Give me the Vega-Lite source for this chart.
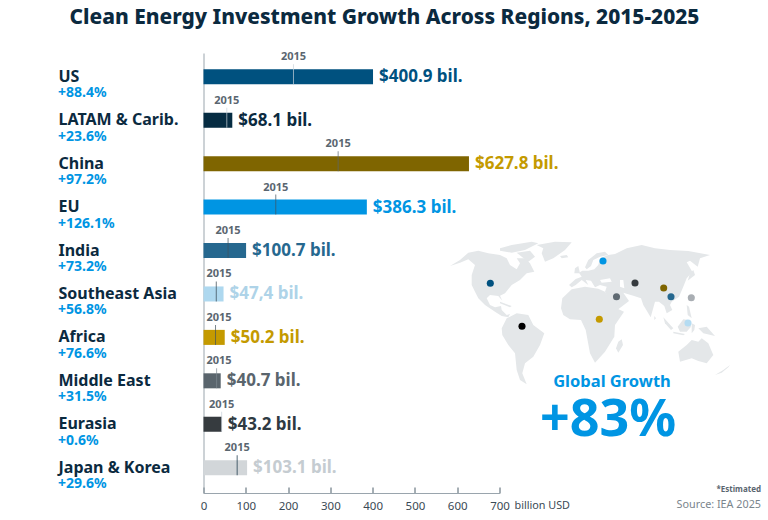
{
  "$schema": "https://vega.github.io/schema/vega-lite/v6.json",
  "width": 296,
  "height": 440,
  "autosize": {"type": "none"},
  "padding": {"left": 203.5, "top": 53, "right": 268.5, "bottom": 27},
  "background": "#ffffff",
  "view": {"stroke": null},
  "title": {"text": "Clean Energy Investment Growth Across Regions, 2015-2025", "anchor": "middle", "dx": 33, "offset": 23, "font": "Noto Sans", "fontSize": 20.9, "fontWeight": 800, "color": "#0b2a3f"},
  "datasets": {
    "regions": [
      {"region": "US", "v2025": 400.9, "v2015": 212.8, "growth": "+88.4%", "label": "$400.9 bil.", "lon": -86.7, "lat": 46.7},
      {"region": "LATAM & Carib.", "v2025": 68.1, "v2015": 55.1, "growth": "+23.6%", "label": "$68.1 bil.", "lon": -55, "lat": 3.7},
      {"region": "China", "v2025": 627.8, "v2015": 318.4, "growth": "+97.2%", "label": "$627.8 bil.", "lon": 86.7, "lat": 42},
      {"region": "EU", "v2025": 386.3, "v2015": 170.9, "growth": "+126.1%", "label": "$386.3 bil.", "lon": 26, "lat": 69},
      {"region": "India", "v2025": 100.7, "v2015": 58.1, "growth": "+73.2%", "label": "$100.7 bil.", "lon": 94, "lat": 33.3},
      {"region": "Southeast Asia", "v2025": 47.4, "v2015": 30.2, "growth": "+56.8%", "label": "$47,4 bil.", "lon": 111, "lat": 7},
      {"region": "Africa", "v2025": 50.2, "v2015": 28.4, "growth": "+76.6%", "label": "$50.2 bil.", "lon": 22.3, "lat": 10.7},
      {"region": "Middle East", "v2025": 40.7, "v2015": 31, "growth": "+31.5%", "label": "$40.7 bil.", "lon": 39.5, "lat": 33.3},
      {"region": "Eurasia", "v2025": 43.2, "v2015": 42.9, "growth": "+0.6%", "label": "$43.2 bil.", "lon": 58, "lat": 47},
      {"region": "Japan & Korea", "v2025": 103.1, "v2015": 79.6, "growth": "+29.6%", "label": "$103.1 bil.", "lon": 114.3, "lat": 32.3}
    ],
    "land": [
      {"type": "Feature", "properties": {"name": "North America"}, "geometry": {"type": "Polygon", "coordinates": [[[-127,64],[-117,70],[-108.7,77.3],[-98.7,79.3],[-88.7,76.7],[-77,75],[-70.3,71.7],[-67,65],[-60.3,60.7],[-57,66.7],[-60.3,71.7],[-52,71.7],[-47,66.7],[-42.7,58.3],[-50.3,56.7],[-57,50],[-65.3,45],[-72,36.7],[-77,34.3],[-74.7,29.3],[-78.7,34],[-87,35],[-90.3,31.7],[-87,25],[-82,22.7],[-76,24],[-75.3,20],[-70.3,15],[-67,16],[-68.7,12.7],[-75.3,14],[-82,18.3],[-92,25],[-98.7,31.7],[-102,38.3],[-105.3,45],[-105.3,55],[-102,65],[-108.7,70.7],[-117,67.3],[-127,64]]]}},
      {"type": "Feature", "properties": {"name": "Arctic islands"}, "geometry": {"type": "Polygon", "coordinates": [[[-77,81.7],[-65.3,85],[-45.3,88.3],[-38.7,86.7],[-52,80],[-65.3,77.3],[-77,79.3],[-77,81.7]]]}},
      {"type": "Feature", "properties": {"name": "Baffin"}, "geometry": {"type": "Polygon", "coordinates": [[[-60.3,77.3],[-47,79.3],[-42,73.3],[-48.7,68.3],[-55.3,73.3],[-60.3,77.3]]]}},
      {"type": "Feature", "properties": {"name": "Greenland"}, "geometry": {"type": "Polygon", "coordinates": [[[-40.3,85],[-22,88.3],[-5.3,87.7],[-12,80],[-23.7,71.7],[-32,68.3],[-35.3,76.7],[-33.7,81.7],[-40.3,85]]]}},
      {"type": "Feature", "properties": {"name": "Cuba"}, "geometry": {"type": "Polygon", "coordinates": [[[-77,28.3],[-65.3,24],[-67,22.7],[-77,26.7],[-77,28.3]]]}},
      {"type": "Feature", "properties": {"name": "South America"}, "geometry": {"type": "Polygon", "coordinates": [[[-75.3,1.7],[-70.3,11.7],[-60.3,16.7],[-48.7,15],[-43.7,5],[-32.7,-3.3],[-37,-15],[-43.7,-26.7],[-52,-33.3],[-54.7,-43.3],[-50.3,-54.3],[-57,-50],[-60.3,-40],[-62,-23.3],[-68.7,-15],[-74.7,-5],[-75.3,1.7]]]}},
      {"type": "Feature", "properties": {"name": "Africa"}, "geometry": {"type": "Polygon", "coordinates": [[[-16,21.7],[-14.7,31.7],[-5.3,40.7],[8,43.3],[21.3,41.3],[28,38.3],[36.3,23.3],[47,18.3],[38,5],[37.3,-6.7],[28,-21.7],[18,-32.7],[13,-23.3],[8.7,0],[4,10],[-7,10.7],[-13.7,15],[-16,21.7]]]}},
      {"type": "Feature", "properties": {"name": "Madagascar"}, "geometry": {"type": "Polygon", "coordinates": [[[44.7,-9.3],[46,-15],[41.3,-22.7],[39,-18.3],[41.3,-11.7],[44.7,-9.3]]]}},
      {"type": "Feature", "properties": {"name": "Eurasia"}, "geometry": {"type": "Polygon", "coordinates": [[[-8,45],[-1.3,51],[4.7,53.3],[2,57.3],[5.3,59.3],[11.3,59.3],[17.3,60.7],[21.3,65],[23,71.7],[31.3,75],[38,76],[49.7,81.7],[64.7,85],[78,81.7],[93,80],[111.3,79],[133,75],[123,71.7],[120.7,63.3],[113,69.3],[109.7,67.7],[115.3,58.3],[109.7,51.7],[106.3,43.3],[102,33.3],[94.7,28.3],[93,25],[95.3,20],[89.7,16.7],[87.3,24],[82,28.3],[78,28.3],[73.7,12.7],[66.3,25],[64,31.7],[56.3,34.3],[46.3,37.3],[52,29],[38,18.3],[33,25],[28,38.3],[29.7,43.3],[23,45],[18,42.7],[14,49.3],[8.7,50],[11.3,45],[4.7,50],[-1.3,45],[-5.3,42.7],[-8,45]],[[23,50],[24.7,47.3],[34.7,48.3],[33,51.7],[23,50]],[[43,50],[43,43.3],[47.3,41.7],[46.3,50],[43,50]]]}},
      {"type": "Feature", "properties": {"name": "Scandinavia"}, "geometry": {"type": "Polygon", "coordinates": [[[8,62.7],[11.3,70],[19.7,76.7],[28,78.3],[31.3,75],[23,73.3],[16.3,70],[14,64],[9.7,60.7],[8,62.7]]]}},
      {"type": "Feature", "properties": {"name": "UK"}, "geometry": {"type": "Polygon", "coordinates": [[[-2,61.7],[1.3,64],[3,56.7],[-2.7,56.7],[-2,61.7]]]}},
      {"type": "Feature", "properties": {"name": "Iceland"}, "geometry": {"type": "Polygon", "coordinates": [[[-17,74],[-10.3,75],[-8.7,72.7],[-15.3,71.7],[-17,74]]]}},
      {"type": "Feature", "properties": {"name": "Japan"}, "geometry": {"type": "Polygon", "coordinates": [[[113,56.7],[116.3,60],[118,55],[110.7,49.3],[113,56.7]]]}},
      {"type": "Feature", "properties": {"name": "Philippines"}, "geometry": {"type": "Polygon", "coordinates": [[[109.7,25],[112,23.3],[114.7,11.7],[110.7,15],[109.7,25]]]}},
      {"type": "Feature", "properties": {"name": "Borneo"}, "geometry": {"type": "Polygon", "coordinates": [[[100.7,3.3],[106.3,10.7],[111.3,10],[114,3.3],[109.7,-1.7],[103,-1.7],[100.7,3.3]]]}},
      {"type": "Feature", "properties": {"name": "Sumatra"}, "geometry": {"type": "Polygon", "coordinates": [[[86.3,12.7],[96.3,1.7],[94,0],[88,6.7],[86.3,12.7]]]}},
      {"type": "Feature", "properties": {"name": "Java"}, "geometry": {"type": "Polygon", "coordinates": [[[96.3,-1.7],[108,-4],[106.3,-5.3],[96.3,-3.3],[96.3,-1.7]]]}},
      {"type": "Feature", "properties": {"name": "Sulawesi"}, "geometry": {"type": "Polygon", "coordinates": [[[114.7,6.7],[118,5],[117.3,0],[114.7,-3.3],[114.7,6.7]]]}},
      {"type": "Feature", "properties": {"name": "New Guinea"}, "geometry": {"type": "Polygon", "coordinates": [[[121.3,1.7],[129.7,3.3],[138,-6],[126.3,-3.3],[121.3,1.7]]]}},
      {"type": "Feature", "properties": {"name": "Australia"}, "geometry": {"type": "Polygon", "coordinates": [[[101.3,-21.7],[109.7,-15],[114.7,-10],[121.3,-11.7],[124.7,-8.3],[131.3,-13.3],[136.3,-25],[129.7,-33.3],[121.3,-31],[114.7,-28.3],[103,-31.7],[101.3,-21.7]]]}},
      {"type": "Feature", "properties": {"name": "New Zealand"}, "geometry": {"type": "Polygon", "coordinates": [[[138,-45],[146.3,-40],[153,-35],[151.3,-37.3],[144.7,-42.7],[138,-45]]]}},
      {"type": "Feature", "properties": {"name": "Sri Lanka"}, "geometry": {"type": "Polygon", "coordinates": [[[77.3,14],[79,11.7],[77.3,10],[77.3,14]]]}}
    ]
  },
  "data": {"name": "regions"},
  "resolve": {"scale": {"color": "independent"}},
  "layer": [
    {
      "data": {"name": "land"},
      "projection": {"type": "identity", "reflectY": true, "scale": 1, "translate": [373.5, 277]},
      "mark": {"type": "geoshape", "fill": "#e4e7e9", "stroke": null, "clip": false}
    },
    {
      "mark": {"type": "bar", "clip": false},
      "encoding": {
        "y": {
          "field": "region",
          "type": "nominal",
          "sort": null,
          "title": null,
          "scale": {"paddingInner": 0.654, "paddingOuter": 0.393, "align": 0.478},
          "axis": {"ticks": false, "domain": true, "domainColor": "#9aa5ad", "domainWidth": 1, "labelAlign": "left", "labelPadding": 145.5, "labelFont": "Noto Sans", "labelFontSize": 16, "labelFontWeight": 700, "labelColor": "#0b2a3f", "labelLimit": 150}
        },
        "x": {
          "field": "v2025",
          "type": "quantitative",
          "scale": {"domain": [0, 700], "nice": false},
          "axis": {"values": [0, 100, 200, 300, 400, 500, 600, 700], "grid": false, "domainColor": "#9aa5ad", "domainWidth": 1, "tickColor": "#4d5e6a", "tickSize": -6, "labelPadding": 13, "labelFlush": false, "labelOverlap": false, "labelFont": "Noto Sans", "labelFontSize": 11.5, "labelColor": "#3a4a55", "title": "billion USD", "titleX": 310.5, "titleY": 12, "titleAlign": "left", "titleBaseline": "middle", "titleFont": "Noto Sans", "titleFontSize": 10.8, "titleFontWeight": 400, "titleColor": "#3a4a55"}
        },
        "color": {
          "field": "region",
          "type": "nominal",
          "legend": null,
          "scale": {
            "domain": ["US", "LATAM & Carib.", "China", "EU", "India", "Southeast Asia", "Africa", "Middle East", "Eurasia", "Japan & Korea"],
            "range": ["#00517f", "#062c42", "#7f6500", "#0095e3", "#26688f", "#aed8ef", "#c49a00", "#5a656d", "#363b3f", "#d2d6d9"]
          }
        }
      }
    },
    {
      "mark": {"type": "tick", "size": 20, "thickness": 1, "yOffset": -2.5},
      "encoding": {
        "y": {"field": "region", "type": "nominal", "sort": null},
        "x": {"field": "v2015", "type": "quantitative"},
        "color": {
          "field": "region",
          "type": "nominal",
          "legend": null,
          "scale": {
            "domain": ["US", "LATAM & Carib.", "China", "EU", "India", "Southeast Asia", "Africa", "Middle East", "Eurasia", "Japan & Korea"],
            "range": ["#c9d3da", "#c9d3da", "#5a656d", "#40525e", "#40525e", "#33424c", "#40525e", "#7f8a91", "#c9d3da", "#0b2a3f"]
          }
        }
      }
    },
    {
      "transform": [{"calculate": "max(datum.v2015, 36.6)", "as": "labelAt"}],
      "mark": {"type": "text", "font": "Noto Sans", "fontSize": 11, "fontWeight": 700, "color": "#5a6670", "dy": -19.5, "baseline": "middle"},
      "encoding": {
        "y": {"field": "region", "type": "nominal", "sort": null},
        "x": {"field": "labelAt", "type": "quantitative"},
        "text": {"value": "2015"}
      }
    },
    {
      "mark": {"type": "text", "font": "Noto Sans", "fontSize": 17, "fontWeight": 700, "align": "left", "baseline": "middle", "dx": 6, "dy": 0.5},
      "encoding": {
        "y": {"field": "region", "type": "nominal", "sort": null},
        "x": {"field": "v2025", "type": "quantitative"},
        "text": {"field": "label"},
        "color": {
          "field": "region",
          "type": "nominal",
          "legend": null,
          "scale": {
            "domain": ["US", "LATAM & Carib.", "China", "EU", "India", "Southeast Asia", "Africa", "Middle East", "Eurasia", "Japan & Korea"],
            "range": ["#00517f", "#0b2a3f", "#c49a00", "#0095e3", "#26688f", "#aed3e8", "#c49a00", "#5a656d", "#2f3a42", "#c5ccd1"]
          }
        }
      }
    },
    {
      "mark": {"type": "text", "font": "Noto Sans", "fontSize": 14, "fontWeight": 700, "color": "#0095e3", "align": "left", "baseline": "middle", "dx": -145.5, "dy": 16.5},
      "encoding": {
        "y": {"field": "region", "type": "nominal", "sort": null},
        "x": {"datum": 0, "type": "quantitative"},
        "text": {"field": "growth"}
      }
    },
    {
      "projection": {"type": "identity", "reflectY": true, "scale": 1, "translate": [373.5, 277]},
      "mark": {"type": "circle", "size": 50, "opacity": 1, "clip": false},
      "encoding": {
        "longitude": {"field": "lon", "type": "quantitative"},
        "latitude": {"field": "lat", "type": "quantitative"},
        "color": {
          "field": "region",
          "type": "nominal",
          "legend": null,
          "scale": {
            "domain": ["US", "LATAM & Carib.", "China", "EU", "India", "Southeast Asia", "Africa", "Middle East", "Eurasia", "Japan & Korea"],
            "range": ["#00517f", "#000000", "#7f6500", "#0095e3", "#26688f", "#b5dcf2", "#c49a00", "#5f6a72", "#363b3f", "#a9aeb3"]
          }
        }
      }
    },
    {
      "projection": {"type": "identity", "reflectY": true, "scale": 1, "translate": [373.5, 277]},
      "data": {"values": [
        {"note": "Global Growth", "lon": 35, "lat": -52, "kind": "head"},
        {"note": "+83%", "lon": 31, "lat": -90, "kind": "big"},
        {"note": "*Estimated", "lon": 184, "lat": -159.5, "kind": "est"},
        {"note": "Source: IEA 2025", "lon": 184, "lat": -175, "kind": "src"}
      ]},
      "layer": [
        {
          "transform": [{"filter": "datum.kind === 'head'"}],
          "mark": {"type": "text", "font": "Noto Sans", "fontSize": 16.5, "fontWeight": 700, "color": "#0095e3", "baseline": "middle", "clip": false},
          "encoding": {"longitude": {"field": "lon", "type": "quantitative"}, "latitude": {"field": "lat", "type": "quantitative"}, "text": {"field": "note"}}
        },
        {
          "transform": [{"filter": "datum.kind === 'big'"}],
          "mark": {"type": "text", "font": "Noto Sans", "fontSize": 52, "fontWeight": 700, "color": "#0095e3", "baseline": "middle", "clip": false},
          "encoding": {"longitude": {"field": "lon", "type": "quantitative"}, "latitude": {"field": "lat", "type": "quantitative"}, "text": {"field": "note"}}
        },
        {
          "transform": [{"filter": "datum.kind === 'est'"}],
          "mark": {"type": "text", "font": "Noto Sans", "fontSize": 8, "fontWeight": 700, "color": "#5a6670", "align": "right", "baseline": "middle", "clip": false},
          "encoding": {"longitude": {"field": "lon", "type": "quantitative"}, "latitude": {"field": "lat", "type": "quantitative"}, "text": {"field": "note"}}
        },
        {
          "transform": [{"filter": "datum.kind === 'src'"}],
          "mark": {"type": "text", "font": "Noto Sans", "fontSize": 10.8, "color": "#7a858c", "align": "right", "baseline": "middle", "clip": false},
          "encoding": {"longitude": {"field": "lon", "type": "quantitative"}, "latitude": {"field": "lat", "type": "quantitative"}, "text": {"field": "note"}}
        }
      ]
    }
  ]
}
